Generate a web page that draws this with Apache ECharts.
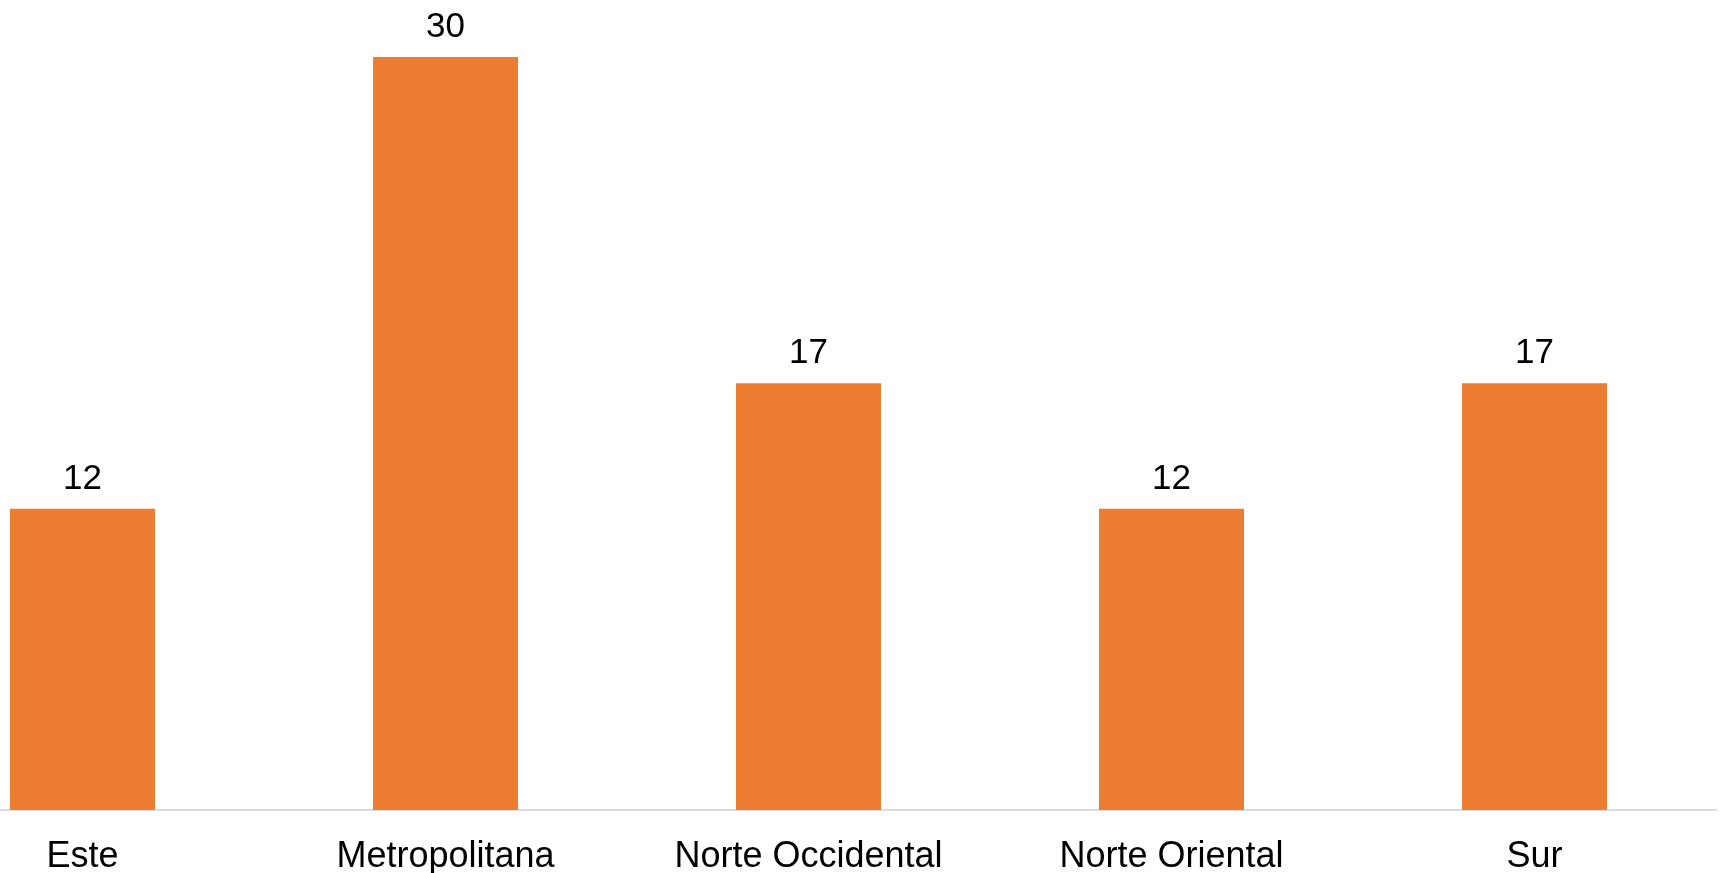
<!DOCTYPE html>
<html>
<head>
<meta charset="utf-8">
<script src="https://cdn.jsdelivr.net/npm/echarts@6/dist/echarts.min.js"></script>
<style>
html,body{margin:0;padding:0;background:#fff;overflow:hidden;width:1727px;height:873px;}
#chart{position:absolute;left:-99px;top:0;width:1826px;height:873px;}
</style>
</head>
<body>
<div id="chart"></div>
<script>
// categorias y valores
var regiones = ['Este', 'Metropolitana', 'Norte Occidental', 'Norte Oriental', 'Sur'];
var valores = [12, 30, 17, 12, 17];

var myChart = echarts.init(document.getElementById('chart'));
var option = {
    animation: false,
    grid: {
        left: 0,
        right: 11,
        top: 57,
        bottom: 63,
        containLabel: false,
        outerBoundsMode: 'none'
    },
    xAxis: {
        type: 'category',
        data: regiones,
        axisLine: { lineStyle: { color: '#d9dde3', width: 2 } },
        axisTick: { show: false },
        axisLabel: {
            color: '#000',
            fontSize: 36,
            fontFamily: 'Liberation Sans',
            margin: 29,
            interval: 0
        }
    },
    yAxis: {
        type: 'value',
        min: 0,
        max: 30,
        show: false,
        splitLine: { show: false }
    },
    series: [{
        type: 'bar',
        data: valores,
        barWidth: 145,
        itemStyle: { color: '#ED7D31' },
        label: {
            show: true,
            position: 'top',
            distance: 12,
            color: '#000',
            fontSize: 35,
            fontFamily: 'Liberation Sans'
        }
    }]
};
myChart.setOption(option);
</script>
</body>
</html>
